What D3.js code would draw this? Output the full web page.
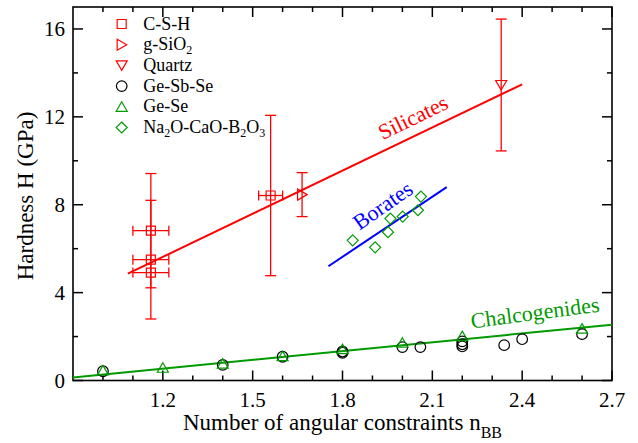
<!DOCTYPE html>
<html>
<head>
<meta charset="utf-8">
<script src="https://cdn.jsdelivr.net/npm/d3@7"></script>
</head>
<body style="margin:0">
<div id="chart"></div>
<script>
// C-S-H (with x and y error bars)
var cshX = [1.16, 1.16, 1.16, 1.56],
    cshY = [6.82, 5.50, 4.91, 8.42],
    cshXerr = [0.06, 0.06, 0.06, 0.04],
    cshYerr = [2.6, 2.7, 0, 3.65];
// g-SiO2 and quartz
var sio2X = [1.665], sio2Y = [8.46], sio2Yerr = [1.0];
var quartzX = [2.33], quartzY = [13.45], quartzYerr = [3.0];
// Ge-Sb-Se
var gsbseX = [1.0, 1.4, 1.6, 1.8, 1.8, 2.0, 2.06, 2.2, 2.2, 2.2, 2.34, 2.4, 2.6],
    gsbseY = [0.42, 0.71, 1.08, 1.26, 1.32, 1.52, 1.52, 1.78, 1.65, 1.55, 1.61, 1.88, 2.11];
// Ge-Se
var geseX = [1.0, 1.2, 1.4, 1.6, 1.8, 2.0, 2.2, 2.6],
    geseY = [0.46, 0.58, 0.77, 1.11, 1.43, 1.72, 2.02, 2.36];
// Na2O-CaO-B2O3
var borateX = [1.834, 1.909, 1.952, 1.960, 2.001, 2.052, 2.062],
    borateY = [6.38, 6.06, 6.75, 7.37, 7.46, 7.75, 8.37];
// fitted lines, end points
var silicateFit = [[1.083, 4.86], [2.40, 13.48]],
    borateFit = [[1.753, 5.20], [2.148, 8.80]],
    chalcoFit = [[0.9, 0.14], [2.7, 2.54]];
// ticks
var xTicks = [1.2, 1.5, 1.8, 2.1, 2.4, 2.7],
    xMinor = [1.0, 1.1, 1.3, 1.4, 1.6, 1.7, 1.9, 2.0, 2.2, 2.3, 2.5, 2.6],
    yTicks = [0, 4, 8, 12, 16],
    yMinor = [2, 6, 10, 14];
// legend
var legendNames = ["C-S-H", "g-SiO_2", "Quartz", "Ge-Sb-Se", "Ge-Se", "Na_2O-CaO-B_2O_3"],
    legendShapes = ["square", "right", "down", "circle", "up", "diamond"];

var RED = "#ff0000", GREEN = "#009a00", BLUE = "#0000ff";
var FONT = "Liberation Serif";
var legendColors = [RED, RED, RED, "#000", GREEN, GREEN];

var margin = {top: 7, right: 26, bottom: 62.5, left: 73},
    width = 638 - margin.left - margin.right,
    height = 443 - margin.top - margin.bottom;

// everything drawn straight onto the svg, in page pixels
var svg = d3.select("#chart")
  .append("svg")
    .attr("width", 638)
    .attr("height", 443);

var x = d3.scaleLinear().domain([0.9, 2.7]).range([margin.left, margin.left + width]);
var y = d3.scaleLinear().domain([0, 17]).range([margin.top + height, margin.top]);
var L = margin.left, R = margin.left + width, T = margin.top, B = margin.top + height;

// tick marks pointing inward on all four sides
function hTicks(vals, len) {
  vals.forEach(function(d) {
    svg.append("line").attr("x1", x(d)).attr("x2", x(d)).attr("y1", B).attr("y2", B - len)
      .attr("stroke", "#000").attr("stroke-width", 1.5);
    svg.append("line").attr("x1", x(d)).attr("x2", x(d)).attr("y1", T).attr("y2", T + len)
      .attr("stroke", "#000").attr("stroke-width", 1.5);
  });
}
function vTicks(vals, len) {
  vals.forEach(function(d) {
    svg.append("line").attr("x1", L).attr("x2", L + len).attr("y1", y(d)).attr("y2", y(d))
      .attr("stroke", "#000").attr("stroke-width", 1.5);
    svg.append("line").attr("x1", R).attr("x2", R - len).attr("y1", y(d)).attr("y2", y(d))
      .attr("stroke", "#000").attr("stroke-width", 1.5);
  });
}
hTicks(xTicks, 10); hTicks(xMinor, 5);
vTicks(yTicks, 10); vTicks(yMinor, 5);

xTicks.forEach(function(d) {
  svg.append("text")
    .attr("x", x(d)).attr("y", B + 26)
    .attr("text-anchor", "middle")
    .attr("font-family", FONT).attr("font-size", 21)
    .text(d3.format(".1f")(d));
});
yTicks.forEach(function(d) {
  svg.append("text")
    .attr("x", L - 8).attr("y", y(d) + 7.5)
    .attr("text-anchor", "end")
    .attr("font-family", FONT).attr("font-size", 21)
    .text(d3.format("d")(d));
});

svg.append("rect")
  .attr("x", L).attr("y", T).attr("width", width).attr("height", height)
  .attr("fill", "none").attr("stroke", "#000").attr("stroke-width", 1.6);

// axis titles
var xt = svg.append("text")
  .attr("x", L + width / 2).attr("y", B + 49.5)
  .attr("text-anchor", "middle")
  .attr("font-family", FONT).attr("font-size", 23);
xt.append("tspan").text("Number of angular constraints n");
xt.append("tspan").attr("dy", 8).attr("font-size", 16).text("BB");

svg.append("text")
  .attr("transform", "translate(33,196) rotate(-90)")
  .attr("text-anchor", "middle")
  .attr("font-family", FONT).attr("font-size", 23)
  .text("Hardness H (GPa)");

// fitted lines
var line = d3.line().x(function(d) { return x(d[0]); }).y(function(d) { return y(d[1]); });
[[silicateFit, RED], [borateFit, BLUE], [chalcoFit, GREEN]].forEach(function(f) {
  svg.append("path").datum(f[0])
    .attr("d", line).attr("fill", "none")
    .attr("stroke", f[1]).attr("stroke-width", 2);
});

// error bars
function errBars(xs, ys, xe, ye, color) {
  var g = svg.append("g").attr("stroke", color).attr("stroke-width", 1.3).attr("fill", "none");
  xs.forEach(function(xv, i) {
    var cx = x(xv), cy = y(ys[i]);
    if (ye && ye[i] > 0) {
      var t = y(ys[i] + ye[i]), b = y(ys[i] - ye[i]);
      g.append("line").attr("x1", cx).attr("x2", cx).attr("y1", t).attr("y2", b);
      g.append("line").attr("x1", cx - 5.5).attr("x2", cx + 5.5).attr("y1", t).attr("y2", t);
      g.append("line").attr("x1", cx - 5.5).attr("x2", cx + 5.5).attr("y1", b).attr("y2", b);
    }
    if (xe && xe[i] > 0) {
      var l = x(xv - xe[i]), r = x(xv + xe[i]);
      g.append("line").attr("x1", l).attr("x2", r).attr("y1", cy).attr("y2", cy);
      g.append("line").attr("x1", l).attr("x2", l).attr("y1", cy - 5).attr("y2", cy + 5);
      g.append("line").attr("x1", r).attr("x2", r).attr("y1", cy - 5).attr("y2", cy + 5);
    }
  });
}
errBars(cshX, cshY, cshXerr, cshYerr, RED);
errBars(sio2X, sio2Y, null, sio2Yerr, RED);
errBars(quartzX, quartzY, null, quartzYerr, RED);

// marker shapes
function shapePath(type) {
  switch (type) {
    case "square": return "M-4.5,-4.5H4.5V4.5H-4.5Z";
    case "up": return "M0,-5L5.5,4.5H-5.5Z";
    case "down": return "M0,5L5.5,-4.5H-5.5Z";
    case "right": return "M5,0L-4.5,-5.5V5.5Z";
    case "diamond": return "M0,-5.5L5.5,0L0,5.5L-5.5,0Z";
    case "circle": return "M5.3,0A5.3,5.3 0 1,1 -5.3,0A5.3,5.3 0 1,1 5.3,0Z";
  }
}
function drawMarkers(xs, ys, type, color) {
  svg.append("g").selectAll("path")
    .data(xs)
    .enter()
    .append("path")
      .attr("d", shapePath(type))
      .attr("transform", function(d, i) { return "translate(" + x(d) + "," + y(ys[i]) + ")"; })
      .attr("fill", "none")
      .attr("stroke", color)
      .attr("stroke-width", 1.2);
}
drawMarkers(cshX, cshY, "square", RED);
drawMarkers(sio2X, sio2Y, "right", RED);
drawMarkers(quartzX, quartzY, "down", RED);
drawMarkers(gsbseX, gsbseY, "circle", "#000");
drawMarkers(geseX, geseY, "up", GREEN);
drawMarkers(borateX, borateY, "diamond", GREEN);

// line labels
function lineLabel(txt, xv, yv, angle, color) {
  svg.append("text")
    .attr("transform", "translate(" + x(xv) + "," + y(yv) + ") rotate(" + angle + ")")
    .attr("text-anchor", "middle")
    .attr("y", 7)
    .attr("fill", color)
    .attr("font-family", FONT).attr("font-size", 22)
    .text(txt);
}
lineLabel("Silicates", 2.036, 11.96, -26, RED);
lineLabel("Borates", 1.935, 7.95, -35, BLUE);
lineLabel("Chalcogenides", 2.443, 3.07, -7.5, GREEN);

// legend
legendNames.forEach(function(name, i) {
  var cy = 24 + i * 20.7;
  svg.append("path")
    .attr("d", shapePath(legendShapes[i]))
    .attr("transform", "translate(121.7," + cy + ")")
    .attr("fill", "none")
    .attr("stroke", legendColors[i])
    .attr("stroke-width", 1.2);
  var t = svg.append("text").attr("x", 143.2).attr("y", cy + 5.5)
    .attr("font-family", FONT).attr("font-size", 18);
  var sub = false;
  name.split(/(_\d)/).forEach(function(part) {
    if (!part) return;
    if (part[0] === "_") {
      t.append("tspan").attr("dy", 4).attr("font-size", 12).text(part.slice(1));
      sub = true;
    } else {
      var ts = t.append("tspan").text(part);
      if (sub) { ts.attr("dy", -4); sub = false; }
    }
  });
});
</script>
</body>
</html>
